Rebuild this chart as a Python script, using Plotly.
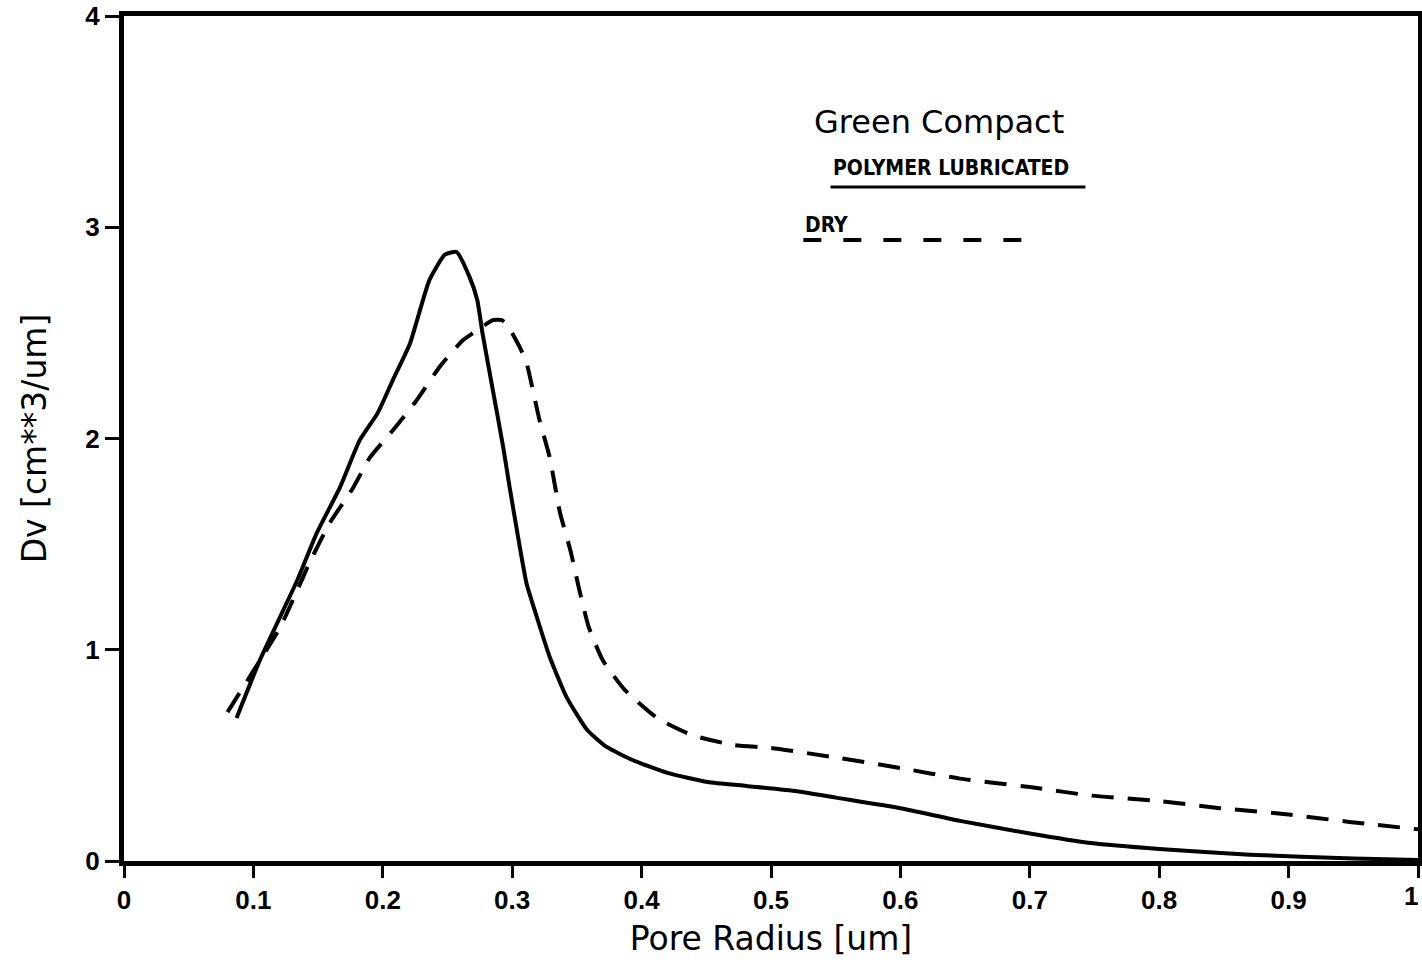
import plotly.graph_objects as go

# Polymer lubricated (solid)
x_poly = [0.087, 0.105, 0.134, 0.149, 0.167, 0.182, 0.196, 0.208, 0.221, 0.236, 0.248, 0.257,
          0.267, 0.273, 0.277, 0.285, 0.293, 0.298, 0.304, 0.311, 0.319, 0.329, 0.342, 0.358,
          0.373, 0.393, 0.420, 0.451, 0.481, 0.520, 0.550, 0.600, 0.646, 0.700, 0.747, 0.800,
          0.870, 0.950, 1.000]
y_poly = [0.677, 0.951, 1.33, 1.553, 1.77, 1.99, 2.12, 2.28, 2.45, 2.75, 2.87, 2.883,
          2.765, 2.656, 2.50, 2.23, 1.96, 1.77, 1.553, 1.316, 1.155, 0.966, 0.776, 0.62,
          0.54, 0.478, 0.417, 0.374, 0.355, 0.33, 0.30, 0.25, 0.19, 0.13, 0.085, 0.057,
          0.03, 0.012, 0.005]

# Dry (dashed)
x_dry = [0.080, 0.100, 0.121, 0.144, 0.159, 0.177, 0.190, 0.208, 0.226, 0.244, 0.262, 0.270,
         0.285, 0.292, 0.296, 0.306, 0.311, 0.321, 0.329, 0.337, 0.345, 0.352, 0.359, 0.370,
         0.387, 0.412, 0.439, 0.471, 0.500, 0.550, 0.600, 0.646, 0.700, 0.747, 0.800, 0.847,
         0.900, 0.947, 1.000]
y_dry = [0.705, 0.90, 1.11, 1.42, 1.60, 1.766, 1.91, 2.04, 2.18, 2.34, 2.466, 2.50,
         2.56, 2.56, 2.54, 2.43, 2.36, 2.09, 1.91, 1.647, 1.47, 1.28, 1.11, 0.95,
         0.81, 0.677, 0.596, 0.549, 0.535, 0.49, 0.44, 0.39, 0.35, 0.31, 0.284, 0.25,
         0.22, 0.185, 0.15]

x_ticks = [0, 0.1, 0.2, 0.3, 0.4, 0.5, 0.6, 0.7, 0.8, 0.9, 1]
x_ticklabels = ["0", "0.1", "0.2", "0.3", "0.4", "0.5", "0.6", "0.7", "0.8", "0.9", "1"]
y_ticks = [0, 1, 2, 3, 4]
y_ticklabels = ["0", "1", "2", "3", "4"]

title_text = "Green Compact"
series_names = ["POLYMER LUBRICATED", "DRY"]

TICKFONT = dict(family="Liberation Sans, Arial, sans-serif", size=26, color="black",
                weight="bold")
TITLEFONT = dict(family="DejaVu Sans, sans-serif", size=33, color="black")
NARROW = "Liberation Sans Narrow, DejaVu Sans Condensed, Arial Narrow, sans-serif"

fig = go.Figure()
fig.add_trace(go.Scatter(x=x_poly, y=y_poly, mode="lines", name=series_names[0],
                         line=dict(color="black", width=4, shape="spline", smoothing=0.5),
                         showlegend=False))
fig.add_trace(go.Scatter(x=x_dry, y=y_dry, mode="lines", name=series_names[1],
                         line=dict(color="black", width=4, dash="22px,14px", shape="spline", smoothing=0.5),
                         showlegend=False))

# Hand-drawn style legend
fig.add_annotation(x=0.532, y=3.50, xref="x", yref="y", text=title_text, showarrow=False,
                   xanchor="left", yanchor="middle",
                   font=dict(family="DejaVu Sans, sans-serif", size=32, color="black"))
fig.add_annotation(x=0.546, y=3.28, xref="x", yref="y", text="<b>" + series_names[0] + "</b>",
                   showarrow=False, xanchor="left", yanchor="middle",
                   font=dict(family=NARROW, size=21, color="black"))
fig.add_shape(type="line", xref="x", yref="y", x0=0.546, x1=0.743, y0=3.19, y1=3.19,
              line=dict(color="black", width=3))
fig.add_annotation(x=0.525, y=3.01, xref="x", yref="y", text="<b>" + series_names[1] + "</b>",
                   showarrow=False, xanchor="left", yanchor="middle",
                   font=dict(family=NARROW, size=21, color="black"))
fig.add_shape(type="line", xref="x", yref="y", x0=0.525, x1=0.696, y0=2.94, y1=2.94,
              line=dict(color="black", width=4, dash="18px,22px"))

# last x tick label at the right page edge
fig.add_annotation(x=x_ticks[-1], y=0, xref="x", yref="paper", text=x_ticklabels[-1],
                   showarrow=False, xanchor="right", yanchor="top", yshift=-18, xshift=2,
                   font=TICKFONT)

fig.update_layout(
    width=1422, height=966,
    margin=dict(l=124, r=4, t=16, b=105),
    paper_bgcolor="white", plot_bgcolor="white",
    showlegend=False,
    xaxis=dict(range=[0, 1], tickmode="array", tickvals=x_ticks, ticktext=x_ticklabels,
               showgrid=False, zeroline=False, showline=True, mirror=True, automargin=False,
               linecolor="black", linewidth=5, ticks="outside", ticklen=12, tickwidth=2.5,
               tickcolor="black", tickfont=TICKFONT,
               title=dict(text="Pore Radius [um]", font=TITLEFONT, standoff=14)),
    yaxis=dict(range=[0, 4], tickmode="array", tickvals=y_ticks, ticktext=y_ticklabels,
               showgrid=False, zeroline=False, showline=True, mirror=True, automargin=False,
               linecolor="black", linewidth=5, ticks="outside", ticklen=14, tickwidth=2.5,
               tickcolor="black", tickfont=TICKFONT,
               title=dict(text="Dv [cm**3/um]", font=TITLEFONT, standoff=30)),
)

fig.write_html("out.html")
